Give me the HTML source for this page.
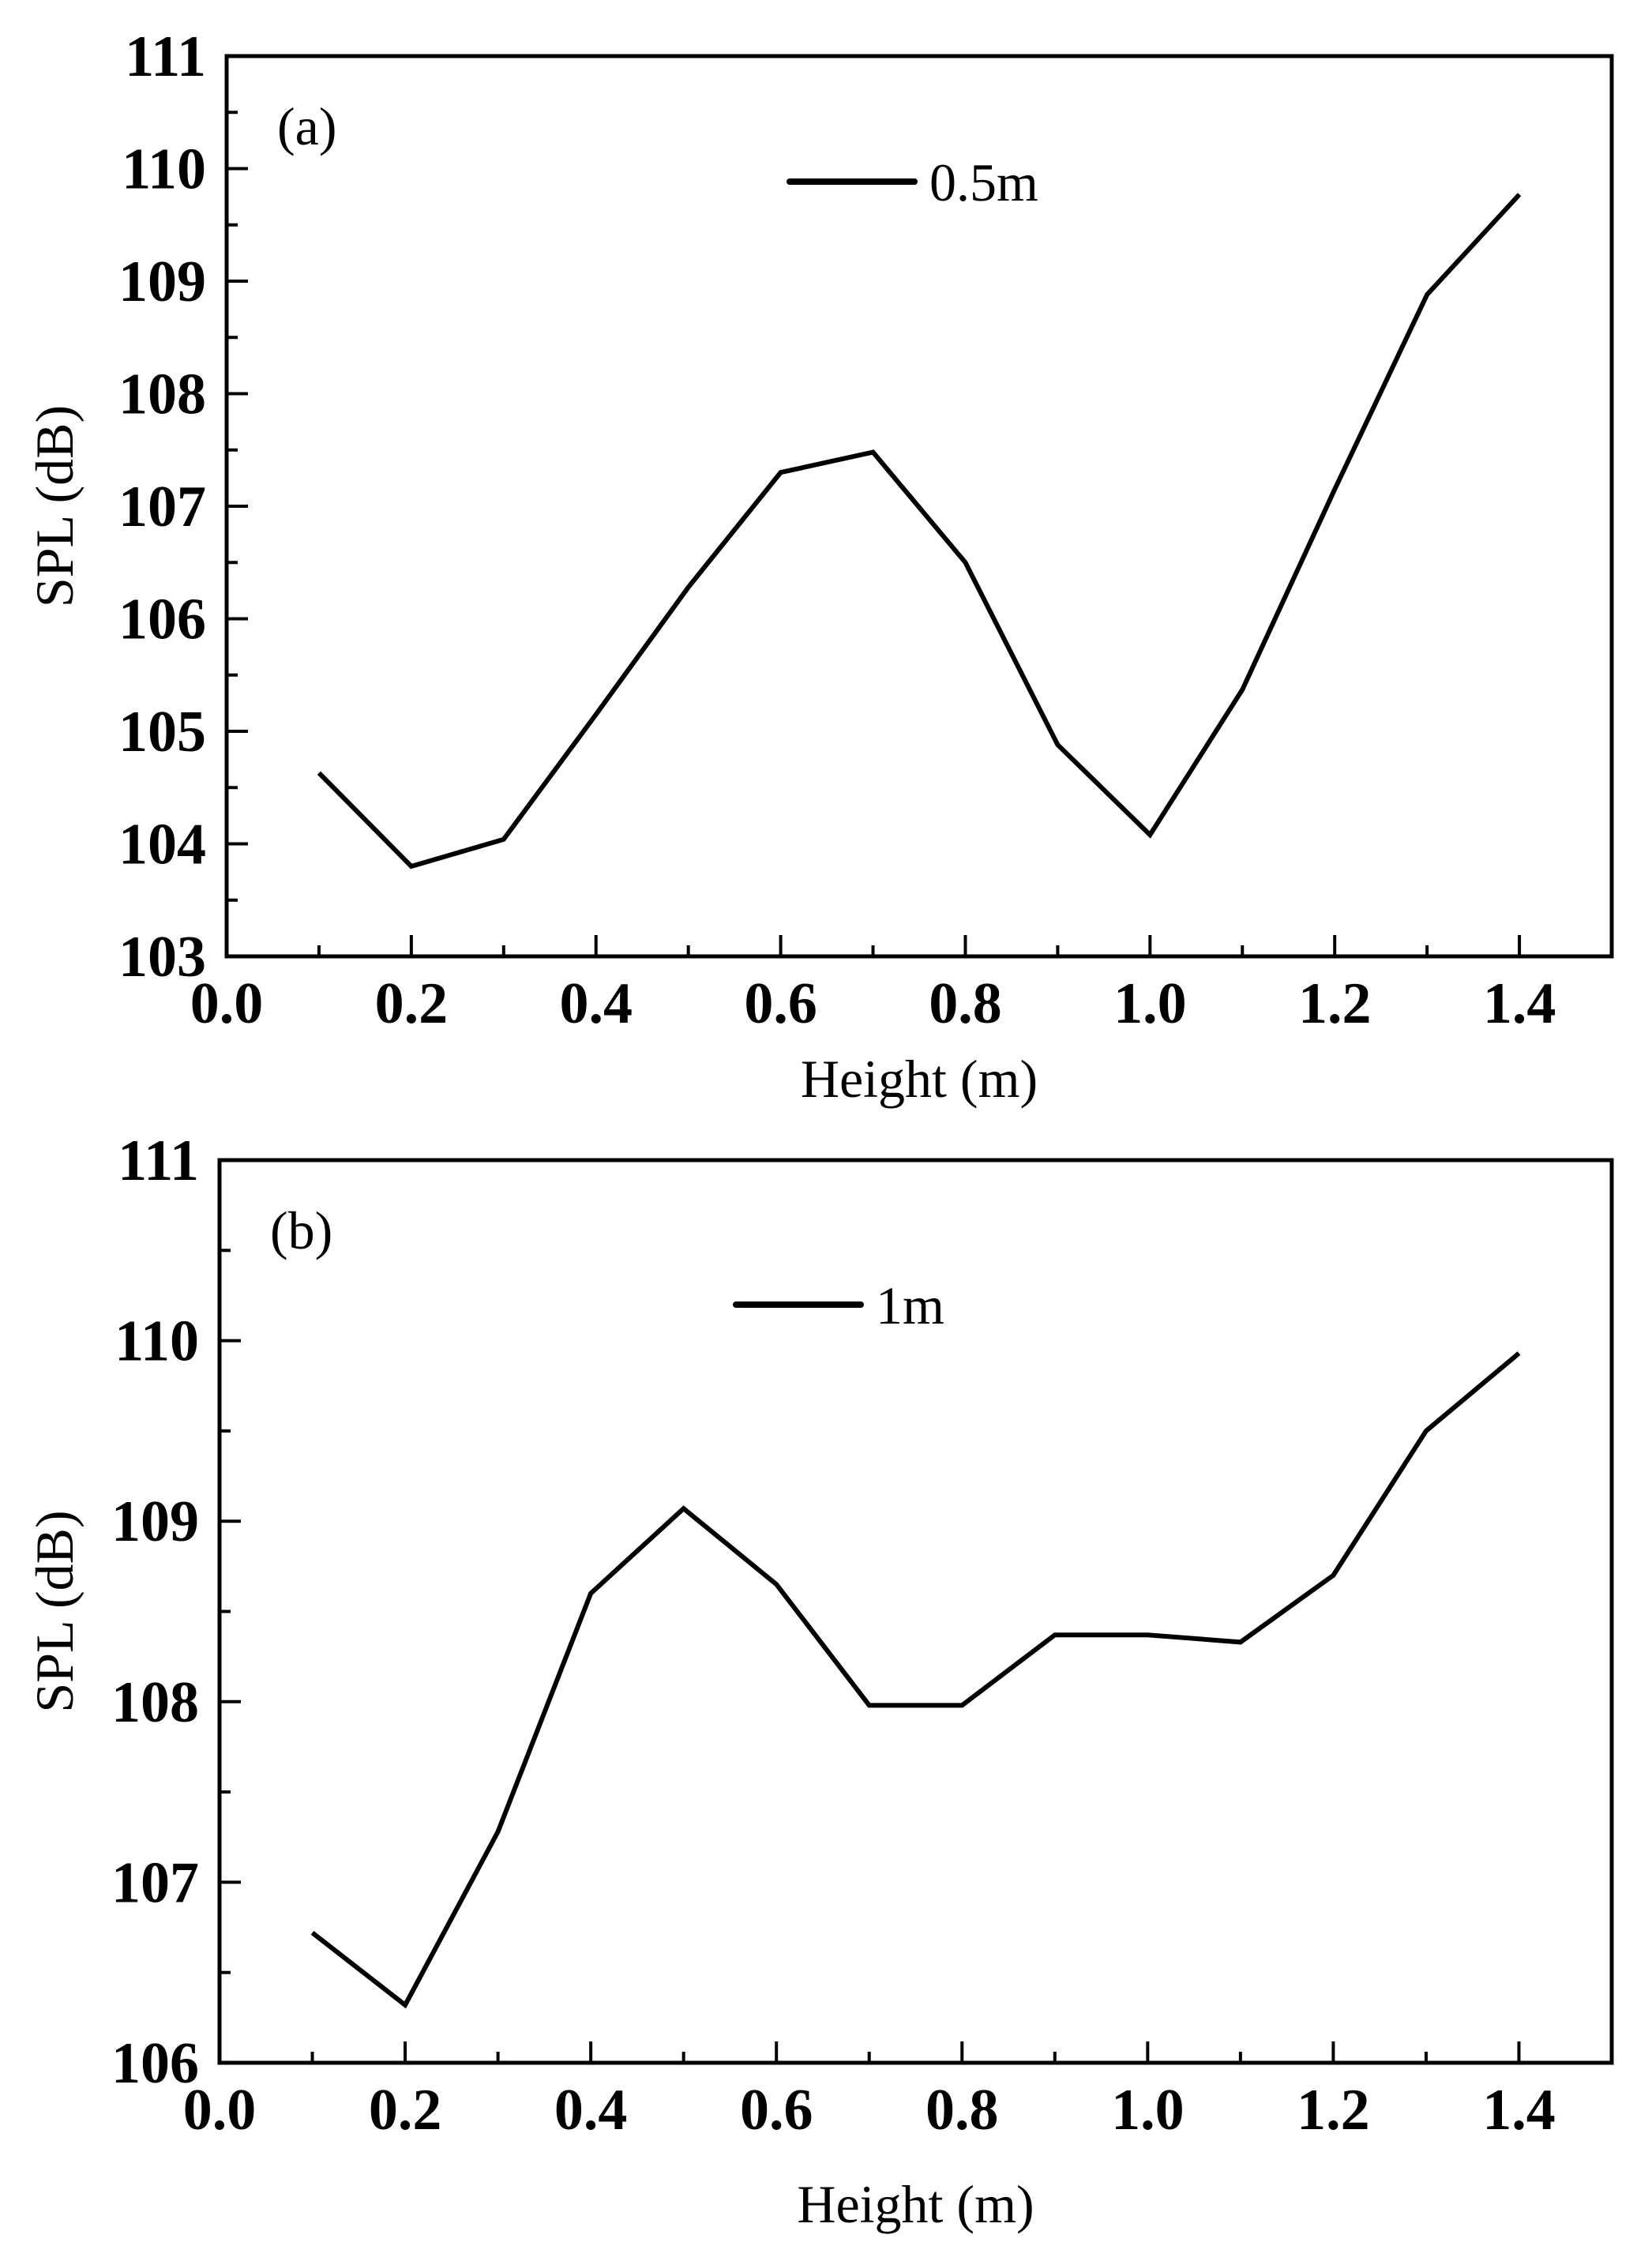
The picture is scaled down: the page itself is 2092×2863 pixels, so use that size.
<!DOCTYPE html>
<html><head><meta charset="utf-8"><style>
html,body{margin:0;padding:0;background:#fff}
svg{display:block}
text{font-family:"Liberation Serif",serif;fill:#000}
.tick{font-weight:bold;font-size:74px}
.title{font-size:68px}
</style></head><body>
<svg id="chart" width="2092" height="2863" viewBox="0 0 2092 2863" xmlns="http://www.w3.org/2000/svg"></svg>
<script>
const heights = [0.1,0.2,0.3,0.4,0.5,0.6,0.7,0.8,0.9,1.0,1.1,1.2,1.3,1.4];
const splA = [104.63,103.8,104.04,105.15,106.28,107.3,107.48,106.5,104.88,104.08,105.37,107.15,108.88,109.77];
const splB = [106.72,106.32,107.28,108.6,109.07,108.65,107.98,107.98,108.37,108.37,108.33,108.7,109.5,109.93];
const xTicks = ['0.0','0.2','0.4','0.6','0.8','1.0','1.2','1.4'];
const yTicksA = ['103','104','105','106','107','108','109','110','111'];
const yTicksB = ['106','107','108','109','110','111'];

const NS='http://www.w3.org/2000/svg';
const svg=document.getElementById('chart');
function mk(tag,attrs,parent){const e=document.createElementNS(NS,tag);for(const k in attrs)e.setAttribute(k,attrs[k]);(parent||svg).appendChild(e);return e;}

function panel(cfg){
  const g=mk('g',{});
  
  
  const xs=v=>cfg.left+(v-0)/(1.5-0)*(cfg.right-cfg.left);
  const ys=v=>cfg.bottom-(v-cfg.ymin)/(cfg.ymax-cfg.ymin)*(cfg.bottom-cfg.top);
  const frame=mk('rect',{x:cfg.left,y:cfg.top,width:cfg.right-cfg.left,height:cfg.bottom-cfg.top,fill:'none',stroke:'#000','stroke-width':5},g);
  
  
  for(let i=0;i<=15;i++){
    const v=i*0.1, x=xs(v), major=i%2===0;
    const t=mk('line',{x1:x,x2:x,y1:cfg.bottom,y2:cfg.bottom-(major?27:14),stroke:'#000','stroke-width':4},g);
    
    
  }
  xTicks.forEach(s=>{
    const tx=mk('text',{x:xs(parseFloat(s)),y:cfg.bottom+84,'text-anchor':'middle',class:'tick'},g);
    tx.textContent=s;
    
    
  });
  for(let v=cfg.ymin;v<=cfg.ymax+1e-9;v+=0.5){
    const y=ys(v), major=Math.abs(v-Math.round(v))<1e-9;
    const t=mk('line',{x1:cfg.left,x2:cfg.left+(major?27:14),y1:y,y2:y,stroke:'#000','stroke-width':4},g);
    
    
  }
  cfg.yTicks.forEach(s=>{
    const tx=mk('text',{x:cfg.left-26,y:ys(parseFloat(s))+25,'text-anchor':'end',class:'tick'},g);
    tx.textContent=s;
    
    
  });
  const pts=heights.map((h,i)=>xs(h)+','+ys(cfg.data[i])).join(' ');
  const pl=mk('polyline',{points:pts,fill:'none',stroke:'#000','stroke-width':6,'stroke-linejoin':'miter'},g);
  
  
  const ll=mk('line',{x1:cfg.legX,x2:cfg.legX+158,y1:cfg.legY,y2:cfg.legY,stroke:'#000','stroke-width':8,'stroke-linecap':'round'},g);
  
  
  const lt=mk('text',{x:cfg.legX+177,y:cfg.legY+24,class:'title'},g);
  lt.textContent=cfg.legend;
  
  
  const pLab=mk('text',{x:cfg.left+64,y:cfg.top+112,class:'title'},g);
  pLab.textContent=cfg.label;
  
  
  const xt=mk('text',{x:(cfg.left+cfg.right)/2,y:cfg.bottom+cfg.xtOff,'text-anchor':'middle',class:'title'},g);
  xt.textContent='Height (m)';
  
  
  const cy=(cfg.top+cfg.bottom)/2;
  const yt=mk('text',{x:0,y:0,'text-anchor':'middle',class:'title',transform:'translate(92,'+cy+') rotate(-90)'},g);
  yt.textContent='SPL (dB)';
  
  
}
panel({name:'panel-a',left:287,right:2041,top:71,bottom:1211,ymin:103,ymax:111,yTicks:yTicksA,data:splA,legX:1000,legY:230,legend:'0.5m',label:'(a)',xtOff:178});
panel({name:'panel-b',left:278,right:2041,top:1469,bottom:2612,ymin:106,ymax:111,yTicks:yTicksB,data:splB,legX:932,legY:1652,legend:'1m',label:'(b)',xtOff:202});
</script>
</body></html>
